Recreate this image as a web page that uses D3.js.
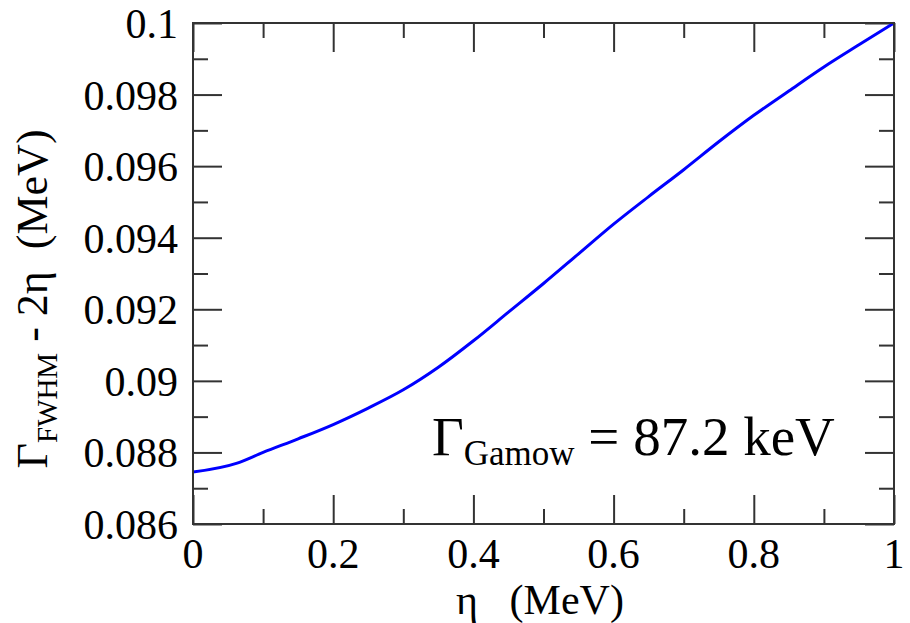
<!DOCTYPE html>
<meta charset="utf-8">
<style>
body { margin: 0; background: #fff; }
.frame { fill: none; stroke: #333; stroke-width: 2px; }
.tick line { stroke: #333; stroke-width: 2px; }
.curve { fill: none; stroke: #0000ff; stroke-width: 3px; stroke-linejoin: round; }
</style>
<svg width="910" height="623"></svg>
<script src="https://d3js.org/d3.v7.min.js"></script>
<script>
// curve
var eta   = [0, 0.063, 0.1, 0.15, 0.2, 0.25, 0.3, 0.35, 0.4, 0.45, 0.5, 0.55, 0.6, 0.65, 0.7, 0.75, 0.8, 0.85, 0.9, 0.95, 1];
var gamma = [0.08745, 0.0877, 0.088, 0.08838, 0.08878, 0.08924, 0.08975, 0.09038, 0.09112, 0.09192, 0.09272, 0.09355, 0.09438, 0.09515, 0.0959, 0.09668, 0.09742, 0.0981, 0.09877, 0.09939, 0.1];

var xMajor = [0, 0.2, 0.4, 0.6, 0.8, 1];
var xMinor = [0.1, 0.3, 0.5, 0.7, 0.9];
var yMajor = [0.086, 0.088, 0.09, 0.092, 0.094, 0.096, 0.098, 0.1];
var yMinor = [0.087, 0.089, 0.091, 0.093, 0.095, 0.097, 0.099];
var yLabels = ["0.086", "0.088", "0.09", "0.092", "0.094", "0.096", "0.098", "0.1"];

var serif = "Liberation Serif, DejaVu Serif";

var svg = d3.select("svg"),
    width = +svg.attr("width"),
    height = +svg.attr("height");

var margin = {top: 23, right: 16, bottom: 99, left: 193};

var x = d3.scaleLinear().domain([0, 1]).range([margin.left, width - margin.right]);
var y = d3.scaleLinear().domain([0.086, 0.1]).range([height - margin.bottom, margin.top]);

var major = 29, minor = 15;

// ticks, inward on every side
function ticks(axis, tx, ty, vals, size) {
  svg.append("g").attr("class", "tick")
    .attr("transform", "translate(" + tx + "," + ty + ")")
    .call(axis.tickValues(vals).tickSize(size).tickFormat(""))
    .call(g => g.select(".domain").remove())
    .call(g => g.selectAll("text").remove());
}
ticks(d3.axisTop(x), 0, y.range()[0], xMajor, major);
ticks(d3.axisTop(x), 0, y.range()[0], xMinor, minor);
ticks(d3.axisBottom(x), 0, y.range()[1], xMajor, major);
ticks(d3.axisBottom(x), 0, y.range()[1], xMinor, minor);
ticks(d3.axisRight(y), x.range()[0], 0, yMajor, major);
ticks(d3.axisRight(y), x.range()[0], 0, yMinor, minor);
ticks(d3.axisLeft(y), x.range()[1], 0, yMajor, major);
ticks(d3.axisLeft(y), x.range()[1], 0, yMinor, minor);

// tick labels
svg.append("g").selectAll("text")
  .data(xMajor)
  .enter().append("text")
    .attr("x", d => x(d))
    .attr("y", 568)
    .attr("text-anchor", "middle")
    .style("font-family", serif)
    .attr("font-size", 42)
    .text(d => String(d));

svg.append("g").selectAll("text")
  .data(yMajor)
  .enter().append("text")
    .attr("x", x.range()[0] - 15)
    .attr("y", d => y(d) + 15)
    .attr("text-anchor", "end")
    .style("font-family", serif)
    .attr("font-size", 42)
    .text((d, i) => yLabels[i]);

// the curve
var line = d3.line()
    .x((d, i) => x(eta[i]))
    .y(d => y(d))
    .curve(d3.curveMonotoneX);

svg.append("path")
    .datum(gamma)
    .attr("class", "curve")
    .attr("d", line);

svg.append("rect")
    .attr("class", "frame")
    .attr("x", x.range()[0])
    .attr("y", y.range()[1])
    .attr("width", x.range()[1] - x.range()[0])
    .attr("height", y.range()[0] - y.range()[1]);

// axis titles
svg.append("text")
    .attr("x", 540)
    .attr("y", 614)
    .attr("text-anchor", "middle")
    .style("font-family", serif)
    .attr("font-size", 42)
    .attr("xml:space", "preserve")
    .text("\u03b7   (MeV)");

var yl = svg.append("text")
    .attr("transform", "translate(47,299) rotate(-90)")
    .attr("text-anchor", "middle")
    .style("font-family", serif)
    .attr("font-size", 44)
    .attr("xml:space", "preserve");
yl.append("tspan").text("\u0393");
yl.append("tspan").attr("font-size", 29).attr("dy", 10).text("FWHM");
yl.append("tspan").attr("dy", -10).text(" - 2\u03b7  (MeV)");

// annotation
var ann = svg.append("text")
    .attr("x", 432)
    .attr("y", 455)
    .style("font-family", serif)
    .attr("font-size", 55);
ann.append("tspan").text("\u0393");
ann.append("tspan").attr("font-size", 35).attr("dy", 10).text("Gamow");
ann.append("tspan").attr("dy", -10).text(" = 87.2 keV");
</script>
